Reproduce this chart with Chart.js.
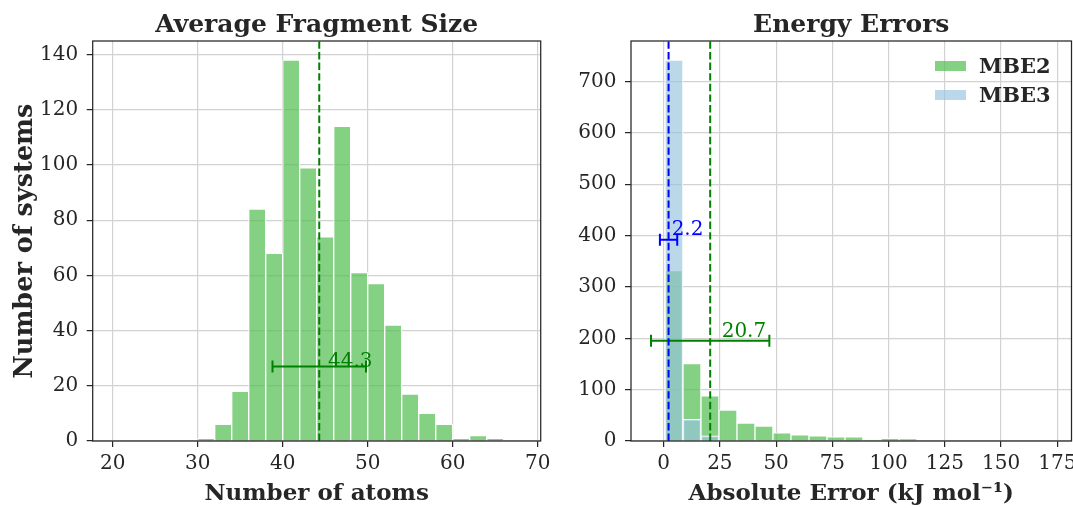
<!DOCTYPE html>
<html>
<head>
<meta charset="utf-8">
<script src="https://cdn.jsdelivr.net/npm/chart.js@4.4.0/dist/chart.umd.min.js"></script>
<style>
  html, body { margin: 0; padding: 0; background: #fff; overflow: hidden; }
  #wrap { position: relative; width: 1073px; height: 508px; overflow: hidden; }
  canvas { position: absolute; top: 0; }
  #left { left: 0; }
  #right { left: 550px; }
</style>
</head>
<body>
<div id="wrap">
  <canvas id="left" width="560" height="508"></canvas>
  <canvas id="right" width="540" height="508"></canvas>
</div>
<script>
// --- Données : taille moyenne des fragments (bins de 2 atomes) --- //
const atomBins = [21, 23, 25, 27, 29, 31, 33, 35, 37, 39, 41, 43, 45, 47, 49, 51, 53, 55, 57, 59, 61, 63, 65, 67];
const atomCounts = [0, 0, 0, 0, 0, 1, 6, 18, 84, 68, 138, 99, 74, 114, 61, 57, 42, 17, 10, 6, 1, 2, 1, 0];
const atomMean = 44.3;
const atomStd = 5.5;

// --- Données : erreurs d'énergie (bins de 8 kJ/mol) --- //
const errorBins = [4.6, 12.6, 20.6, 28.6, 36.6, 44.6, 52.6, 60.6, 68.6, 76.6, 84.6, 92.6, 100.6, 108.6, 116.6, 124.6];
const mbe2Counts = [332, 151, 88, 60, 35, 29, 16, 12, 10, 8, 8, 2, 5, 4, 0, 1];
const mbe3Counts = [742, 42, 10, 0, 0, 0, 0, 0, 0, 0, 0, 0, 0, 0, 0, 0];
const seriesNames = ["MBE2", "MBE3"];
const mbe2Mean = 20.7, mbe2Std = 26.3;
const mbe3Mean = 2.2, mbe3Std = 3.85;

// styles
const FONT = "'DejaVu Serif', serif";
const INK = "#262626";
const GRID = "#d2d2d2";
const GREEN_FILL = "rgba(80, 190, 80, 0.7)";
const BLUE_FILL = "rgba(150, 195, 225, 0.65)";
const TICK_SIZE = 20;

function points(xs, ys) {
    return xs.map((x, i) => ({ x: x, y: ys[i] }));
}

function meanLine(x, yMax, color) {
    return {
        type: "line",
        data: [{ x: x, y: 0 }, { x: x, y: yMax }],
        borderColor: color,
        borderWidth: 2,
        borderDash: [7.4, 3.2],
        pointRadius: 0,
        order: -2
    };
}

function errorBar(mean, std, y, color) {
    return {
        type: "line",
        data: [{ x: mean - std, y: y }, { x: mean + std, y: y }],
        borderColor: color,
        borderWidth: 2,
        pointStyle: "line",
        pointRotation: 90,
        pointRadius: 6,
        pointBorderWidth: 2,
        pointBorderColor: color,
        order: -1
    };
}

function histBars(label, xs, ys, fill, order) {
    return {
        type: "bar",
        label: label,
        data: points(xs, ys),
        backgroundColor: fill,
        borderColor: "#ffffff",
        borderWidth: 1,
        grouped: false,
        barPercentage: 1,
        categoryPercentage: 1,
        order: order
    };
}

function buildScales(cfg) {
    const tickFont = { family: FONT, size: TICK_SIZE };
    const grid = () => ({ color: GRID, lineWidth: 1.2, tickColor: INK, tickLength: 6, tickWidth: 1.25, offset: false });
    return {
        x: {
            type: "linear", min: cfg.xMin, max: cfg.xMax, offset: false,
            grid: grid(), border: { display: false },
            ticks: { stepSize: cfg.xStep, includeBounds: false, font: tickFont, color: INK, padding: 5, maxRotation: 0, autoSkip: false },
            title: { display: true, text: cfg.xTitle, font: { family: FONT, size: 23, weight: "bold" }, color: INK, padding: { top: 0, bottom: 0 } },
            afterFit: s => { s.height = 67; s.paddingLeft = 0; s.paddingRight = 0; }
        },
        y: {
            type: "linear", min: 0, max: cfg.yMax,
            grid: grid(), border: { display: false },
            ticks: { stepSize: cfg.yStep, includeBounds: false, font: tickFont, color: INK, padding: 8.5, autoSkip: false },
            title: { display: !!cfg.yTitle, text: cfg.yTitle || "", font: { family: FONT, size: 25.5, weight: "bold" }, color: INK, padding: { top: 9.6, bottom: 0 } },
            afterFit: s => { s.width = cfg.yWidth; s.paddingTop = 0; s.paddingBottom = 0; }
        }
    };
}

// cadre noir + titre + textes des moyennes + légende
function decorPlugin(title, notes, legend) {
    return {
        id: "decor",
        afterDatasetsDraw(chart) {
            const { ctx, chartArea: a, scales } = chart;
            ctx.save();
            ctx.strokeStyle = INK;
            ctx.lineWidth = 1.25;
            ctx.strokeRect(a.left, a.top, a.right - a.left, a.bottom - a.top);

            ctx.fillStyle = INK;
            ctx.font = "bold 25px " + FONT;
            ctx.textAlign = "center";
            ctx.textBaseline = "alphabetic";
            ctx.fillText(title, (a.left + a.right) / 2, 32);

            ctx.textAlign = "left";
            ctx.font = "20px " + FONT;
            notes.forEach(n => {
                ctx.fillStyle = n.color;
                ctx.fillText(n.text, scales.x.getPixelForValue(n.x), scales.y.getPixelForValue(n.y));
            });

            if (legend) {
                ctx.font = "bold 21px " + FONT;
                legend.forEach((item, i) => {
                    const cy = a.top + 25 + i * 29;
                    ctx.fillStyle = item.color;
                    ctx.fillRect(a.right - 136.5, cy - 5, 31, 10);
                    ctx.fillStyle = INK;
                    ctx.fillText(item.label, a.right - 92.5, cy + 7);
                });
            }
            ctx.restore();
        }
    };
}

const baseOptions = (padRight, scales) => ({
    responsive: false,
    animation: false,
    devicePixelRatio: 1,
    layout: { padding: { top: 41, right: padRight, left: 0, bottom: 0 } },
    plugins: { legend: { display: false }, tooltip: { enabled: false }, title: { display: false } },
    scales: scales
});

// --- Graphique gauche --- //
const atomYMax = 144.9;
new Chart(document.getElementById("left").getContext("2d"), {
    type: "bar",
    data: {
        datasets: [
            meanLine(atomMean, atomYMax, "#008000"),
            errorBar(atomMean, atomStd, 27, "#008000"),
            histBars("atoms", atomBins, atomCounts, GREEN_FILL, 1)
        ]
    },
    options: baseOptions(19.3, buildScales({
        xMin: 17.65, xMax: 70.35, xStep: 10, xTitle: "Number of atoms",
        yMax: atomYMax, yStep: 20, yTitle: "Number of systems", yWidth: 92.7
    })),
    plugins: [decorPlugin("Average Fragment Size",
        [{ text: atomMean.toFixed(1), x: 45.33, y: 26.7, color: "#008000" }], null)]
});

// --- Graphique droit --- //
const errYMax = 779;
new Chart(document.getElementById("right").getContext("2d"), {
    type: "bar",
    data: {
        datasets: [
            histBars(seriesNames[0], errorBins, mbe2Counts, GREEN_FILL, 2),
            histBars(seriesNames[1], errorBins, mbe3Counts, BLUE_FILL, 1),
            meanLine(mbe3Mean, errYMax, "#0000ff"),
            meanLine(mbe2Mean, errYMax, "#008000"),
            errorBar(mbe3Mean, mbe3Std, 392, "#0000ff"),
            errorBar(mbe2Mean, mbe2Std, 195, "#008000")
        ]
    },
    options: baseOptions(18.5, buildScales({
        xMin: -14.5, xMax: 181.3, xStep: 25, xTitle: "Absolute Error (kJ mol\u207B\u00B9)",
        yMax: errYMax, yStep: 100, yTitle: null, yWidth: 81
    })),
    plugins: [decorPlugin("Energy Errors",
        [{ text: mbe3Mean.toFixed(1), x: 3.56, y: 401, color: "#0000ff" },
         { text: mbe2Mean.toFixed(1), x: 25.8, y: 203, color: "#008000" }],
        [{ label: seriesNames[0], color: GREEN_FILL }, { label: seriesNames[1], color: BLUE_FILL }])]
});
</script>
</body>
</html>
